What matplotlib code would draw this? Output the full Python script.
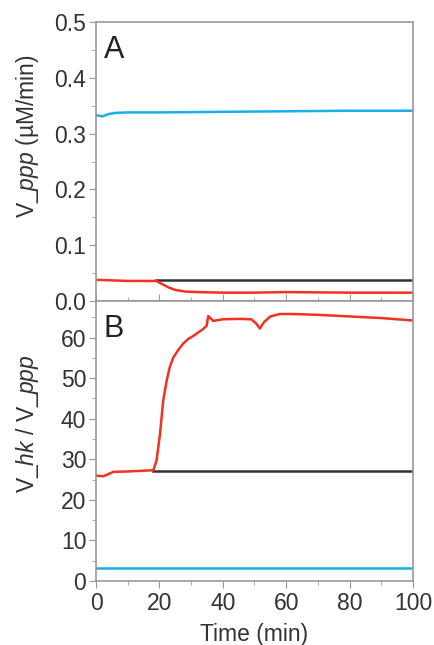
import matplotlib
matplotlib.use("Agg")
import matplotlib.pyplot as plt
from matplotlib.ticker import MultipleLocator

plt.rcParams['font.family'] = ['Liberation Sans', 'DejaVu Sans']
plt.rcParams['mathtext.fontset'] = 'custom'
plt.rcParams['mathtext.rm'] = 'Liberation Sans'
plt.rcParams['mathtext.it'] = 'Liberation Sans:italic'

RED = '#f0321e'
BLUE = '#18b0ea'
BLACK = '#333333'
SPINE = '#999999'

# panel A: V_ppp (uM/min)
a_blue_t = [0, 2, 4, 6, 10, 20, 40, 60, 80, 100]
a_blue_v = [0.333, 0.331, 0.335, 0.337, 0.338, 0.338, 0.339, 0.340, 0.341, 0.341]
a_black_t = [19, 100]
a_black_v = [0.037, 0.037]
a_red_t = [0, 5, 10, 15, 19, 21, 23, 25, 28, 32, 40, 50, 60, 80, 100]
a_red_v = [0.038, 0.037, 0.036, 0.036, 0.036, 0.030, 0.024, 0.020, 0.017, 0.016, 0.015, 0.015, 0.016, 0.015, 0.015]

# panel B: V_hk / V_ppp
b_blue_t = [0, 100]
b_blue_v = [3.2, 3.2]
b_black_t = [18, 100]
b_black_v = [27.0, 27.0]
b_red_t = [0, 2.3, 5.5, 10, 18.1, 19.1, 20.2, 21.2, 22.3, 23.3, 24.4, 26, 27.5, 29, 30.7, 33.8, 34.9, 35.4,
           37, 40, 45, 49, 50.5, 51.7, 53, 55, 58, 62, 70, 80, 90, 100]
b_red_v = [26.0, 25.8, 26.9, 27.0, 27.3, 29.7, 36.3, 44.5, 49.4, 52.8, 55.1, 57.0, 58.5, 59.6, 60.4, 62.1, 62.9, 65.3,
           64.1, 64.5, 64.6, 64.5, 63.5, 62.2, 63.8, 65.2, 65.8, 65.8, 65.6, 65.2, 64.8, 64.2]

fig = plt.figure(figsize=(4.35, 6.45), dpi=100)
axA = fig.add_axes([0.2207, 0.5333, 0.7287, 0.4326])
axB = fig.add_axes([0.2207, 0.0992, 0.7287, 0.4341])

for ax in (axA, axB):
    for s in ax.spines.values():
        s.set_color(SPINE)
        s.set_linewidth(1.2)
    ax.set_xlim(0, 100)
    ax.xaxis.set_major_locator(MultipleLocator(20))
    ax.xaxis.set_minor_locator(MultipleLocator(10))
    ax.tick_params(axis='both', which='both', color=SPINE, labelsize=16.5, labelcolor='#333333')
    ax.tick_params(axis='y', which='major', direction='out', length=5, pad=2)
    ax.tick_params(axis='y', which='minor', direction='out', length=3)

axA.plot(a_blue_t, a_blue_v, color=BLUE, lw=1.8)
axA.plot(a_black_t, a_black_v, color=BLACK, lw=1.8)
axA.plot(a_red_t, a_red_v, color=RED, lw=1.8)
axA.set_ylim(0, 0.5)
axA.yaxis.set_major_locator(MultipleLocator(0.1))
axA.yaxis.set_minor_locator(MultipleLocator(0.05))
axA.tick_params(axis='x', which='major', direction='in', length=5, labelbottom=False)
axA.tick_params(axis='x', which='minor', direction='in', length=3)
axA.set_ylabel(r'V_$\mathit{ppp}$ (µM/min)', fontsize=16.5, color='#333333')
axA.yaxis.set_label_coords(-0.175, 0.59)
axA.text(0.025, 0.955, 'A', transform=axA.transAxes, fontsize=22, va='top', color='#222222')

axB.plot(b_blue_t, b_blue_v, color=BLUE, lw=1.8)
axB.plot(b_black_t, b_black_v, color=BLACK, lw=1.8)
axB.plot(b_red_t, b_red_v, color=RED, lw=1.8)
axB.set_ylim(0, 69)
axB.yaxis.set_major_locator(MultipleLocator(10))
axB.yaxis.set_minor_locator(MultipleLocator(5))
axB.tick_params(axis='x', which='major', direction='out', length=5, pad=3)
axB.tick_params(axis='x', which='minor', direction='out', length=3)
axB.set_ylabel(r'V_$\mathit{hk}$ / V_$\mathit{ppp}$', fontsize=16.5, color='#333333')
axB.yaxis.set_label_coords(-0.175, 0.562)
axB.set_xlabel('Time (min)', fontsize=16.5, color='#333333', labelpad=6)
axB.text(0.025, 0.955, 'B', transform=axB.transAxes, fontsize=22, va='top', color='#222222')

fig.savefig('out.png', dpi=100)
